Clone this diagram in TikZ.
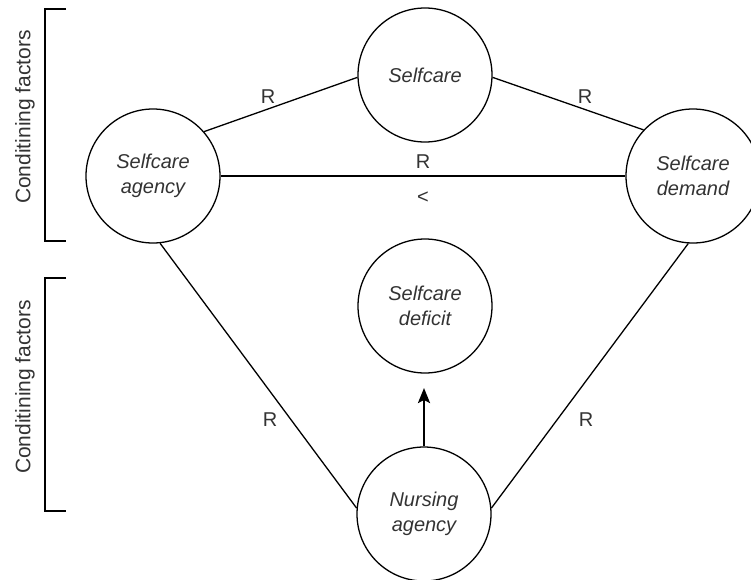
\documentclass[tikz,border=0pt]{standalone}
\usepackage{fontspec}
\setmainfont{Liberation Sans}
\usetikzlibrary{arrows.meta}
\begin{document}
\begin{tikzpicture}[x=1pt,y=-1pt,
  circ/.style={circle,draw,line width=1.3pt,minimum size=134pt,inner sep=0pt,align=center,
    font=\fontsize{20}{25}\selectfont\itshape, text=black!80},
  conn/.style={line width=1.3pt},
  thick conn/.style={line width=2.4pt},
  lbl/.style={font=\fontsize{20}{24}\selectfont, text=black!80},
  side/.style={font=\fontsize{21}{24}\selectfont, text=black!80, rotate=90},
  brk/.style={line width=1.4pt}]
\useasboundingbox (0,0) rectangle (751,579);
\node[circ] (sc) at (425,75) {Selfcare};
\node[circ] (ag) at (153,176) {Selfcare\\agency};
\node[circ] (dm) at (693,176) {Selfcare\\demand};
\node[circ] (df) at (425,306) {Selfcare\\deficit};
\node[circ] (na) at (424,514) {Nursing\\agency};
\coordinate (tip) at (424,388);
\draw[conn] (ag.41) -- (sc.182);
\draw[conn] (sc.-2) -- (dm.137);
\draw[thick conn] (ag.east) -- (dm.west);
\draw[conn] (ag.-84) -- (na.175);
\draw[conn] (dm.-94) -- (na.5);
\draw[thick conn,-{Stealth[length=15pt,width=12pt,inset=3pt]}] (na.north) -- (tip);
\node[lbl] (r1) at (268,97) {R};
\node[lbl] (r2) at (585,97) {R};
\node[lbl] (r3) at (423,162) {R};
\node[lbl] (lt) at (423,198) {<};
\node[lbl] (r4) at (270,420) {R};
\node[lbl] (r5) at (586,420) {R};
\draw[brk] (66,9) -- (45,9) -- (45,241) -- (66,241);
\draw[brk] (66,278) -- (45,278) -- (45,511) -- (66,511);
\node[side] (cf1) at (25,117) {Conditining factors};
\node[side] (cf2) at (25,387) {Conditining factors};
\end{tikzpicture}
\end{document}
